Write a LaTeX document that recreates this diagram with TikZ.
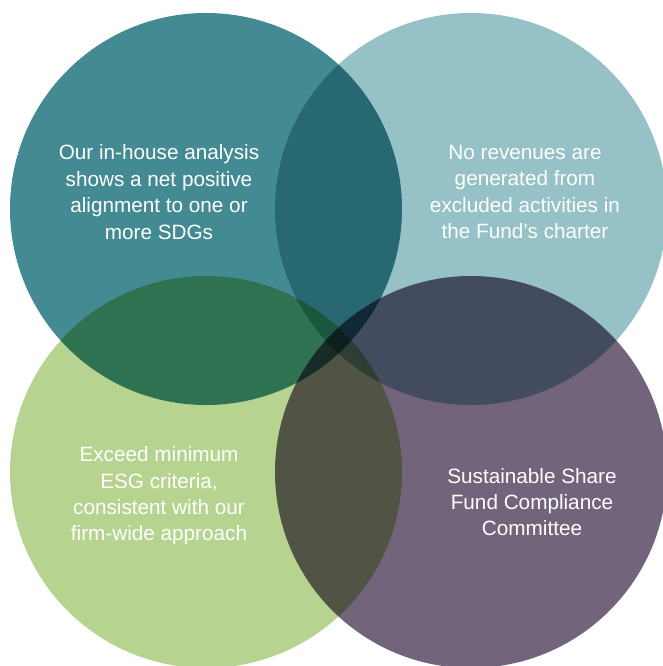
\documentclass[tikz,border=0pt]{standalone}
\usepackage{fontspec}
\setmainfont{Liberation Sans}
\usepackage{xcolor}
\definecolor{tealA}{HTML}{438A92}
\definecolor{tealB}{HTML}{96C1C6}
\definecolor{greenC}{HTML}{B6D48F}
\definecolor{plumD}{HTML}{72647B}

\begin{document}
\begin{tikzpicture}[x=1bp,y=-1bp,
  ring/.style={circle,minimum size=392bp,inner sep=0pt,draw=none,blend mode=multiply},
  txt/.style={align=center,text=white,inner sep=0pt,font=\fontsize{20.8}{26.5}\selectfont}]
  \useasboundingbox[fill=white] (0,0) rectangle (663,666);

  \node[ring,fill=tealA]  (A) at (206,209) {};
  \node[ring,fill=tealB]  (B) at (471,209) {};
  \node[ring,fill=greenC] (C) at (206,472) {};
  \node[ring,fill=plumD]  (D) at (471,472) {};

  \node[txt] (a) at (159,192) {Our in-house analysis\\shows a net positive\\alignment to one or\\more SDGs};
  \node[txt] (b) at (525,192) {No revenues are\\generated from\\excluded activities in\\the Fund's charter};
  \node[txt] (c) at (159,496) {Exceed minimum\\ESG criteria,\\consistent with our\\firm-wide approach};
  \node[txt] (d) at (532,502) {Sustainable Share\\Fund Compliance\\Committee};
\end{tikzpicture}
\end{document}
